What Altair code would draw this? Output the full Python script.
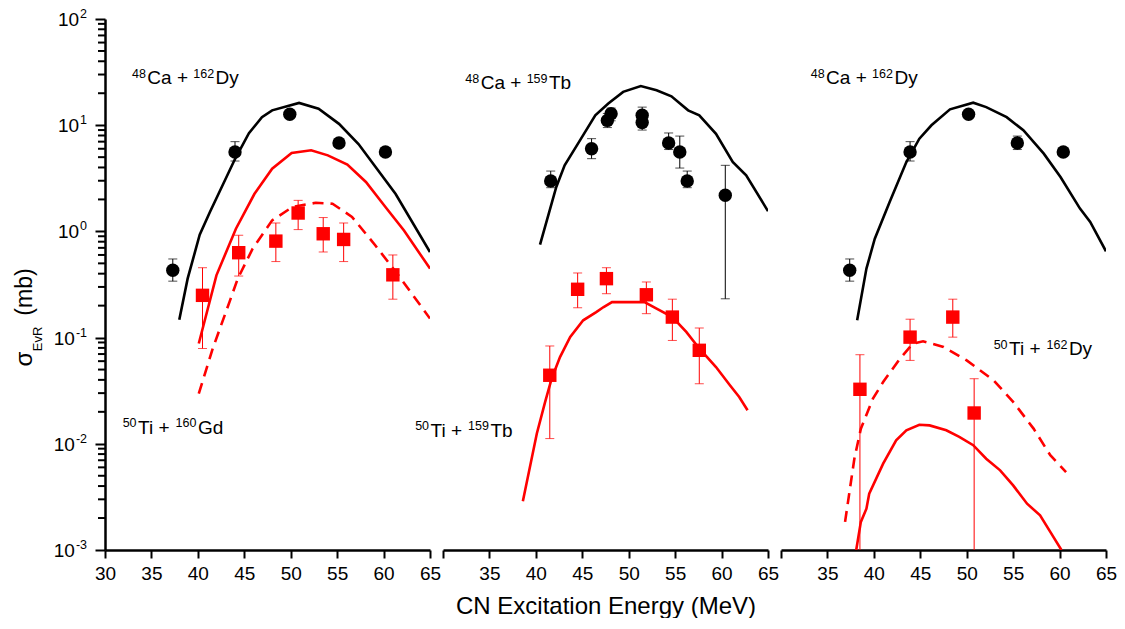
import altair as alt
import pandas as pd

FONT = "Liberation Sans"
RED = "#ff0000"

# ---------------- Panel 1: 48Ca+162Dy (black) / 50Ti+160Gd (red) ----------------
p1_ca_E = [37.3, 44.0, 49.9, 55.2, 60.2]
p1_ca_s = [0.43, 5.6, 12.7, 6.8, 5.6]
p1_ca_lo = [0.34, 4.6, None, None, None]
p1_ca_hi = [0.55, 7.0, None, None, None]

p1_ti_E = [40.5, 44.4, 48.4, 50.8, 53.5, 55.7, 61.0]
p1_ti_s = [0.25, 0.63, 0.81, 1.49, 0.95, 0.84, 0.39]
p1_ti_lo = [0.079, 0.38, 0.52, 1.04, 0.64, 0.52, 0.23]
p1_ti_hi = [0.455, 0.92, 1.2, 1.96, 1.35, 1.2, 0.60]

p1_ca_curve_E = [38.0, 38.9, 40.2, 41.3, 44.0, 45.5, 46.9, 48.0, 50.9, 53.0, 55.2, 57.3, 61.3, 65.0]
p1_ca_curve_s = [0.147, 0.359, 0.93, 1.52, 4.8, 8.4, 11.9, 13.8, 16.2, 14.3, 10.3, 6.65, 2.25, 0.64]

p1_ti_curve_E = [40.1, 42.0, 44.1, 46.1, 48.0, 50.1, 52.2, 54.0, 56.1, 58.1, 60.2, 62.2, 65.0]
p1_ti_curve_s = [0.088, 0.386, 1.06, 2.26, 3.89, 5.47, 5.8, 5.2, 4.25, 2.92, 1.70, 1.02, 0.446]

p1_ti_dash_E = [40.1, 41.6, 43.4, 44.3, 45.9, 48.0, 50.2, 52.7, 54.5, 56.6, 59.1, 61.6, 65.0]
p1_ti_dash_s = [0.0297, 0.0787, 0.216, 0.359, 0.687, 1.27, 1.70, 1.86, 1.82, 1.37, 0.74, 0.386, 0.151]

# ---------------- Panel 2: 48Ca+159Tb / 50Ti+159Tb ----------------
p2_ca_E = [41.6, 46.0, 47.7, 48.1, 51.45, 51.45, 54.3, 55.5, 56.3, 60.4]
p2_ca_s = [2.99, 6.0, 11.1, 12.8, 12.4, 10.6, 6.8, 5.6, 2.99, 2.19]
p2_ca_lo = [2.58, 4.84, 9.5, 11.0, 10.8, 9.0, 5.9, 3.95, 2.58, 0.232]
p2_ca_hi = [3.7, 7.47, 12.9, 14.5, 14.8, 12.0, 8.45, 7.9, 3.7, 4.19]

p2_ti_E = [41.5, 44.5, 47.6, 51.9, 54.7, 57.6]
p2_ti_s = [0.0442, 0.285, 0.359, 0.253, 0.156, 0.0759]
p2_ti_lo = [0.0112, 0.191, 0.259, 0.168, 0.094, 0.0368]
p2_ti_hi = [0.0834, 0.406, 0.455, 0.334, 0.23, 0.123]

p2_ca_curve_E = [40.45, 42.2, 43.1, 44.75, 46.4, 47.8, 49.4, 51.3, 53.0, 54.6, 56.4, 57.6, 59.4, 61.2, 62.65, 65.0]
p2_ca_curve_s = [0.75, 2.62, 4.19, 7.2, 12.4, 16.0, 20.6, 23.4, 21.3, 18.7, 13.8, 12.4, 8.3, 4.5, 3.37, 1.55]

p2_ti_curve_E = [38.6, 40.1, 41.0, 41.7, 42.6, 43.7, 45.1, 46.5, 47.3, 48.2, 51.7, 53.0, 54.7, 56.2,
                 57.6, 59.4, 60.9, 61.9, 62.8]
p2_ti_curve_s = [0.00288, 0.01245, 0.0248, 0.041, 0.0656, 0.1014, 0.1455, 0.174, 0.194, 0.216, 0.216,
                 0.187, 0.156, 0.113, 0.079, 0.0528, 0.0356, 0.0276, 0.0207]

# ---------------- Panel 3: 48Ca+162Dy / 50Ti+162Dy ----------------
p3_ca_E = [37.4, 43.9, 50.2, 55.45, 60.4]
p3_ca_s = [0.43, 5.6, 12.7, 6.8, 5.6]
p3_ca_lo = [0.34, 4.6, None, 5.9, None]
p3_ca_hi = [0.55, 7.0, None, 7.9, None]

p3_ti_E = [38.5, 43.9, 48.5, 50.8]
p3_ti_s = [0.0326, 0.101, 0.156, 0.0195]
p3_ti_lo = [0.001, 0.061, 0.101, 0.001]
p3_ti_hi = [0.069, 0.149, 0.23, 0.041]

p3_ca_curve_E = [38.2, 39.2, 40.1, 41.7, 43.5, 44.9, 46.2, 48.2, 50.7, 52.1, 54.3, 56.1, 58.3, 60.1, 62.2, 63.3, 65.0]
p3_ca_curve_s = [0.146, 0.446, 0.853, 1.89, 4.5, 7.47, 9.98, 14.1, 16.3, 14.8, 11.9, 8.96, 5.4, 3.25, 1.64, 1.23, 0.65]

p3_ti_dash_E = [36.9, 37.9, 38.6, 39.9, 41.0, 42.8, 44.2, 45.3, 47.5, 50.0, 52.9, 55.0, 57.2, 59.0, 60.7]
p3_ti_dash_s = [0.00184, 0.00724, 0.01387, 0.0266, 0.0382, 0.0632, 0.0877, 0.0923, 0.0817, 0.061,
                0.0396, 0.0248, 0.0139, 0.0078, 0.00542]

p3_ti_curve_E = [38.1, 38.6, 39.2, 39.5, 41.0, 42.4, 43.5, 44.9, 46.0, 47.8, 49.2, 50.7, 52.1, 53.6,
                 55.0, 56.5, 57.9, 59.0, 60.2]
p3_ti_curve_s = [0.001, 0.00184, 0.00245, 0.00339, 0.0065, 0.0108, 0.0134, 0.0151, 0.0149, 0.0134,
                 0.0116, 0.0097, 0.00724, 0.00562, 0.00406, 0.00273, 0.00212, 0.00148, 0.001]

# reaction labels: (pieces [(text, is_superscript)], anchor energy, anchor cross-section at baseline)
p1_labels = [([("48", 1), ("Ca + ", 0), ("162", 1), ("Dy", 0)], 32.9, 24.4),
             ([("50", 1), ("Ti + ", 0), ("160", 1), ("Gd", 0)], 31.9, 0.01245)]
p2_labels = [([("48", 1), ("Ca + ", 0), ("159", 1), ("Tb", 0)], 32.4, 21.8),
             ([("50", 1), ("Ti + ", 0), ("159", 1), ("Tb", 0)], 27.0, 0.01159)]
p3_labels = [([("48", 1), ("Ca + ", 0), ("162", 1), ("Dy", 0)], 33.2, 24.4),
             ([("50", 1), ("Ti + ", 0), ("162", 1), ("Dy", 0)], 52.9, 0.068)]

x_ticks = [30, 35, 40, 45, 50, 55, 60, 65]
y_major = [100.0, 10.0, 1.0, 0.1, 0.01, 0.001]
y_major_exp = ["2", "1", "0", "-1", "-2", "-3"]
y_minor = [round(m * 10.0 ** d, 6) for d in range(-3, 2) for m in range(2, 10)]

W, H = 325, 531
MAIN_FS, SUP_FS, SUP_RAISE = 19, 12.5, 6.5

# Arial / Liberation Sans advance widths (em)
ADV = {**{d: 0.556 for d in "0123456789"}, "C": 0.722, "a": 0.556, " ": 0.278, "+": 0.584,
       "D": 0.722, "y": 0.5, "T": 0.611, "i": 0.222, "b": 0.556, "G": 0.778, "d": 0.556, "-": 0.333}


def text_w(t, fs):
    return sum(ADV.get(ch, 0.556) for ch in t) * fs


X_SCALE = alt.Scale(domain=[30, 65], nice=False, zero=False)
Y_SCALE = alt.Scale(type="log", domain=[0.001, 100], nice=False)

Y_AXIS = alt.Axis(values=y_major, grid=False, labels=False, tickSize=10, tickWidth=2,
                  domainWidth=2.5, tickColor="black", domainColor="black", title=None)


def x_enc(hide30, title):
    kw = dict(values=x_ticks, grid=False, labelFlush=False, labelOverlap=False,
              tickSize=8, tickWidth=2, domainWidth=2.5, labelFontSize=19, labelPadding=6,
              labelFont=FONT, labelColor="black", tickColor="black", domainColor="black",
              titleFont=FONT, titleFontSize=24, titleFontWeight="normal", titleColor="black",
              titlePadding=11, format="d")
    if hide30:
        kw["labelExpr"] = "datum.value==30?'':datum.label"
    return alt.X("E:Q", scale=X_SCALE, axis=alt.Axis(**kw), title=title)


def panel(curves, pts, labels, show_y, hide30, xtitle):
    X = x_enc(hide30, xtitle)

    def Y(field):
        if show_y:
            return alt.Y(field, scale=Y_SCALE, axis=Y_AXIS, title=None)
        return alt.Y(field, scale=Y_SCALE, axis=None)

    layers = []
    for E, s, color, dash in curves:
        kw = dict(color=color, strokeWidth=2.6, clip=True)
        if dash:
            kw["strokeDash"] = [11, 7]
        layers.append(alt.Chart(pd.DataFrame({"E": E, "s": s})).mark_line(**kw).encode(x=X, y=Y("s:Q")))
    for E, s, lo, hi, color, shape in pts:
        eb = pd.DataFrame({"E": E, "lo": lo, "hi": hi}).dropna()
        layers.append(alt.Chart(eb).mark_rule(color=color, strokeWidth=1).encode(
            x=X, y=Y("lo:Q"), y2="hi:Q"))
        layers.append(alt.Chart(eb).mark_tick(color=color, orient="horizontal", size=9, thickness=1).encode(
            x=X, y=Y("hi:Q")))
        eb_lo = eb[eb["lo"] > 0.0011]
        layers.append(alt.Chart(eb_lo).mark_tick(color=color, orient="horizontal", size=9, thickness=1).encode(
            x=X, y=Y("lo:Q")))
        layers.append(alt.Chart(pd.DataFrame({"E": E, "s": s})).mark_point(
            shape=shape, filled=True, size=180, color=color, opacity=1).encode(x=X, y=Y("s:Q")))
    for pieces, E, s in labels:
        df = pd.DataFrame({"E": [E], "s": [s]})
        off = 0.0
        for t, sup in pieces:
            fs = SUP_FS if sup else MAIN_FS
            layers.append(alt.Chart(df).mark_text(
                text=t, align="left", baseline="alphabetic", fontSize=fs, font=FONT, color="black",
                dx=off, dy=-SUP_RAISE if sup else 0).encode(x=X, y=Y("s:Q")))
            off += text_w(t, fs) + (1.5 if sup else 0)
    if show_y:
        # minor log ticks
        layers.append(alt.Chart(pd.DataFrame({"v": y_minor})).mark_rule(color="black", strokeWidth=2).encode(
            y=Y("v:Q"), x=alt.value(-7), x2=alt.value(0)))
        # tick labels 10^n
        lab = pd.DataFrame({"v": y_major, "e": y_major_exp})
        layers.append(alt.Chart(lab).mark_text(
            align="right", baseline="alphabetic", fontSize=SUP_FS, font=FONT, color="black", dy=-1
        ).encode(y=Y("v:Q"), x=alt.value(-18), text="e:N"))
        for neg in (False, True):
            sub = lab[lab["e"].str.startswith("-") == neg]
            wexp = text_w(sub["e"].iloc[0], SUP_FS)
            layers.append(alt.Chart(sub.assign(t="10")).mark_text(
                align="right", baseline="alphabetic", fontSize=MAIN_FS, font=FONT, color="black", dy=7
            ).encode(y=Y("v:Q"), x=alt.value(-19 - wexp), text="t:N"))
        # axis title sigma_EvR (mb)
        for t, xx, yy, fs in [("σ", -73, 340, 24), ("EvR", -63, 320, 13), ("(mb)", -73, 273, 23)]:
            layers.append(alt.Chart(pd.DataFrame({"t": [t]})).mark_text(
                angle=270, align="center", baseline="alphabetic", fontSize=fs, font=FONT, color="black"
            ).encode(text="t:N", x=alt.value(xx), y=alt.value(yy)))
    return alt.layer(*layers).properties(width=W, height=H)


c1 = panel(
    [(p1_ca_curve_E, p1_ca_curve_s, "black", False),
     (p1_ti_curve_E, p1_ti_curve_s, RED, False),
     (p1_ti_dash_E, p1_ti_dash_s, RED, True)],
    [(p1_ca_E, p1_ca_s, p1_ca_lo, p1_ca_hi, "black", "circle"),
     (p1_ti_E, p1_ti_s, p1_ti_lo, p1_ti_hi, RED, "square")],
    p1_labels, True, False, None)

c2 = panel(
    [(p2_ca_curve_E, p2_ca_curve_s, "black", False),
     (p2_ti_curve_E, p2_ti_curve_s, RED, False)],
    [(p2_ca_E, p2_ca_s, p2_ca_lo, p2_ca_hi, "black", "circle"),
     (p2_ti_E, p2_ti_s, p2_ti_lo, p2_ti_hi, RED, "square")],
    p2_labels, False, True, "CN Excitation Energy (MeV)")

c3 = panel(
    [(p3_ca_curve_E, p3_ca_curve_s, "black", False),
     (p3_ti_dash_E, p3_ti_dash_s, RED, True),
     (p3_ti_curve_E, p3_ti_curve_s, RED, False)],
    [(p3_ca_E, p3_ca_s, p3_ca_lo, p3_ca_hi, "black", "circle"),
     (p3_ti_E, p3_ti_s, p3_ti_lo, p3_ti_hi, RED, "square")],
    p3_labels, False, True, None)

chart = alt.hconcat(c1, c2, c3, spacing=13, bounds="flush").properties(
    padding={"left": 5, "top": 0, "right": 0, "bottom": 0},
    background="white",
).configure_view(stroke=None)

chart.save("out.html", embed_options={"renderer": "svg", "actions": False})
